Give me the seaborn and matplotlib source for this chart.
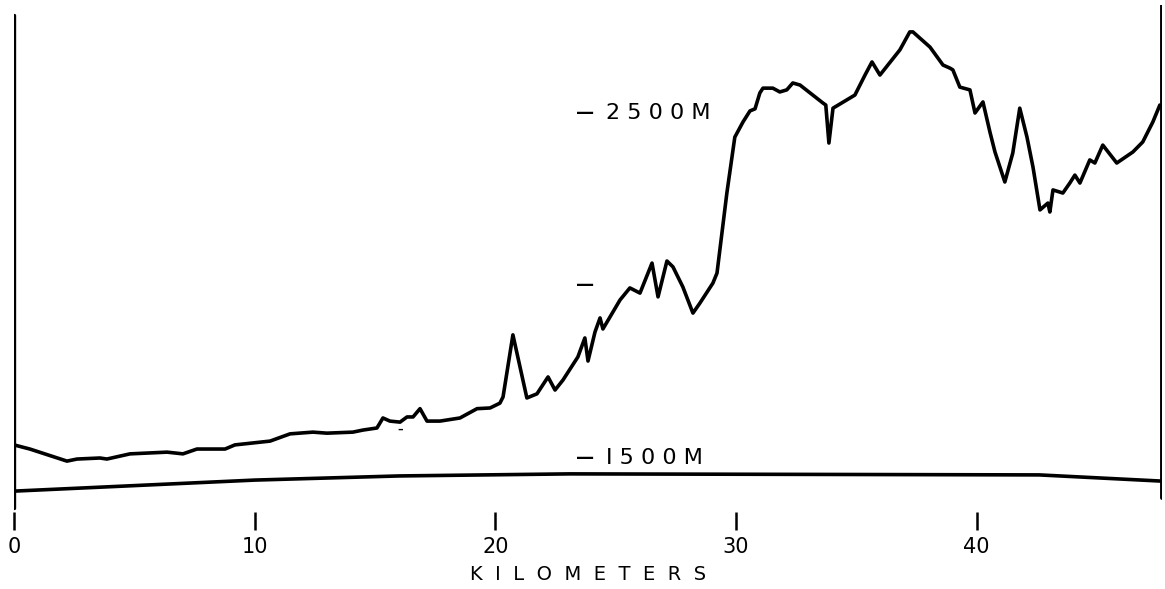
import numpy as np
import pandas as pd
import matplotlib
matplotlib.use("Agg")
import matplotlib.pyplot as plt
import seaborn as sns

sns.set_style("white")
plt.rcParams['font.family'] = ['DejaVu Sans']
plt.rcParams['text.color'] = 'black'

# elevation profile (km, metres)
profile_km = [0.00, 0.66, 2.20, 2.62, 3.57, 3.86, 4.82, 6.36, 7.02, 7.60,
              8.77, 9.18, 10.64, 11.47, 12.42, 13.00, 14.08, 14.50, 15.08, 15.33,
              15.62, 16.04, 16.33, 16.58, 16.87, 17.16, 17.70, 18.53, 19.24, 19.78,
              20.19, 20.32, 20.73, 21.31, 21.73, 22.19, 22.48, 22.81, 23.43, 23.72,
              23.85, 24.14, 24.35, 24.47, 25.18, 25.59, 26.01, 26.51, 26.76, 27.13,
              27.38, 27.79, 28.21, 28.50, 29.04, 29.21, 29.62, 29.95, 30.29, 30.58,
              30.79, 30.99, 31.12, 31.53, 31.82, 32.11, 32.36, 32.66, 33.61, 33.73,
              33.86, 34.03, 34.94, 35.36, 35.65, 35.98, 36.81, 37.22, 37.35, 38.06,
              38.60, 38.89, 39.01, 39.30, 39.72, 39.93, 40.26, 40.55, 40.76, 41.17,
              41.50, 41.79, 42.09, 42.34, 42.63, 42.96, 43.04, 43.17, 43.58, 43.87,
              44.08, 44.29, 44.70, 44.91, 45.24, 45.82, 46.49, 46.90, 47.32, 47.61]
profile_m = [1538, 1526, 1491, 1497, 1500, 1497, 1512, 1517, 1512, 1526,
             1526, 1538, 1549, 1570, 1575, 1572, 1575, 1581, 1587, 1616,
             1607, 1604, 1619, 1619, 1643, 1607, 1607, 1616, 1643, 1645,
             1659, 1677, 1857, 1674, 1686, 1735, 1697, 1726, 1793, 1848,
             1781, 1865, 1906, 1874, 1958, 1993, 1978, 2065, 1967, 2071,
             2054, 1996, 1920, 1949, 2007, 2036, 2268, 2430, 2474, 2506,
             2512, 2558, 2572, 2572, 2561, 2567, 2587, 2581, 2529, 2523,
             2413, 2514, 2552, 2610, 2648, 2610, 2683, 2735, 2735, 2691,
             2639, 2630, 2625, 2575, 2567, 2500, 2532, 2445, 2387, 2300,
             2384, 2514, 2430, 2343, 2219, 2239, 2213, 2277, 2268, 2297,
             2320, 2297, 2364, 2355, 2407, 2355, 2387, 2416, 2474, 2523]

# lower reference line
base_km = [0.0, 10.0, 16.0, 23.1, 42.6, 47.7]
base_m = [1404, 1436, 1448, 1454, 1451, 1433]

x_ticks = [0, 10, 20, 30, 40]
elev_marks = [2500, 2000, 1500]
elev_labels = ["2 5 0 0 M", "", "I 5 0 0 M"]

prof = pd.DataFrame({"km": profile_km, "m": profile_m})
base = pd.DataFrame({"km": base_km, "m": base_m})

fig = plt.figure(figsize=(11.65, 5.89), dpi=100)
ax = fig.add_axes([14 / 1165, 1 - 512 / 589, 1148 / 1165, 507 / 589])

sns.lineplot(data=prof, x="km", y="m", ax=ax, color="black", lw=2.6,
             estimator=None, sort=False)
sns.lineplot(data=base, x="km", y="m", ax=ax, color="black", lw=2.6,
             estimator=None, sort=False)

ax.set_xlim(0, 47.7)
ax.set_ylim(1343.5, 2813)
for s in ax.spines.values():
    s.set_visible(False)
ax.axvline(0, ymin=0.008, ymax=0.98, color="black", lw=2.4)
ax.axvline(47.7, ymin=0.028, ymax=1.0, color="black", lw=2.8)

ax.set_xticks(x_ticks)
ax.set_xticklabels([str(t) for t in x_ticks], fontsize=15)
ax.tick_params(axis="x", direction="out", length=13, width=1.8, pad=5,
               bottom=True, colors="black")
ax.set_yticks([])
ax.set_xlabel("K  I  L  O  M  E  T  E  R  S", fontsize=14, labelpad=6,
              color="black")
ax.set_ylabel("")

for m, lab in zip(elev_marks, elev_labels):
    ax.text(23.36, m, "—", fontsize=13, fontweight="bold", ha="left",
            va="center", color="black")
    ax.text(24.6, m, lab, fontsize=16, ha="left", va="center", color="black")
ax.text(15.95, 1581, "–", fontsize=8, fontweight="bold", ha="left",
        va="center", color="black")

fig.savefig("out.png", dpi=100)
